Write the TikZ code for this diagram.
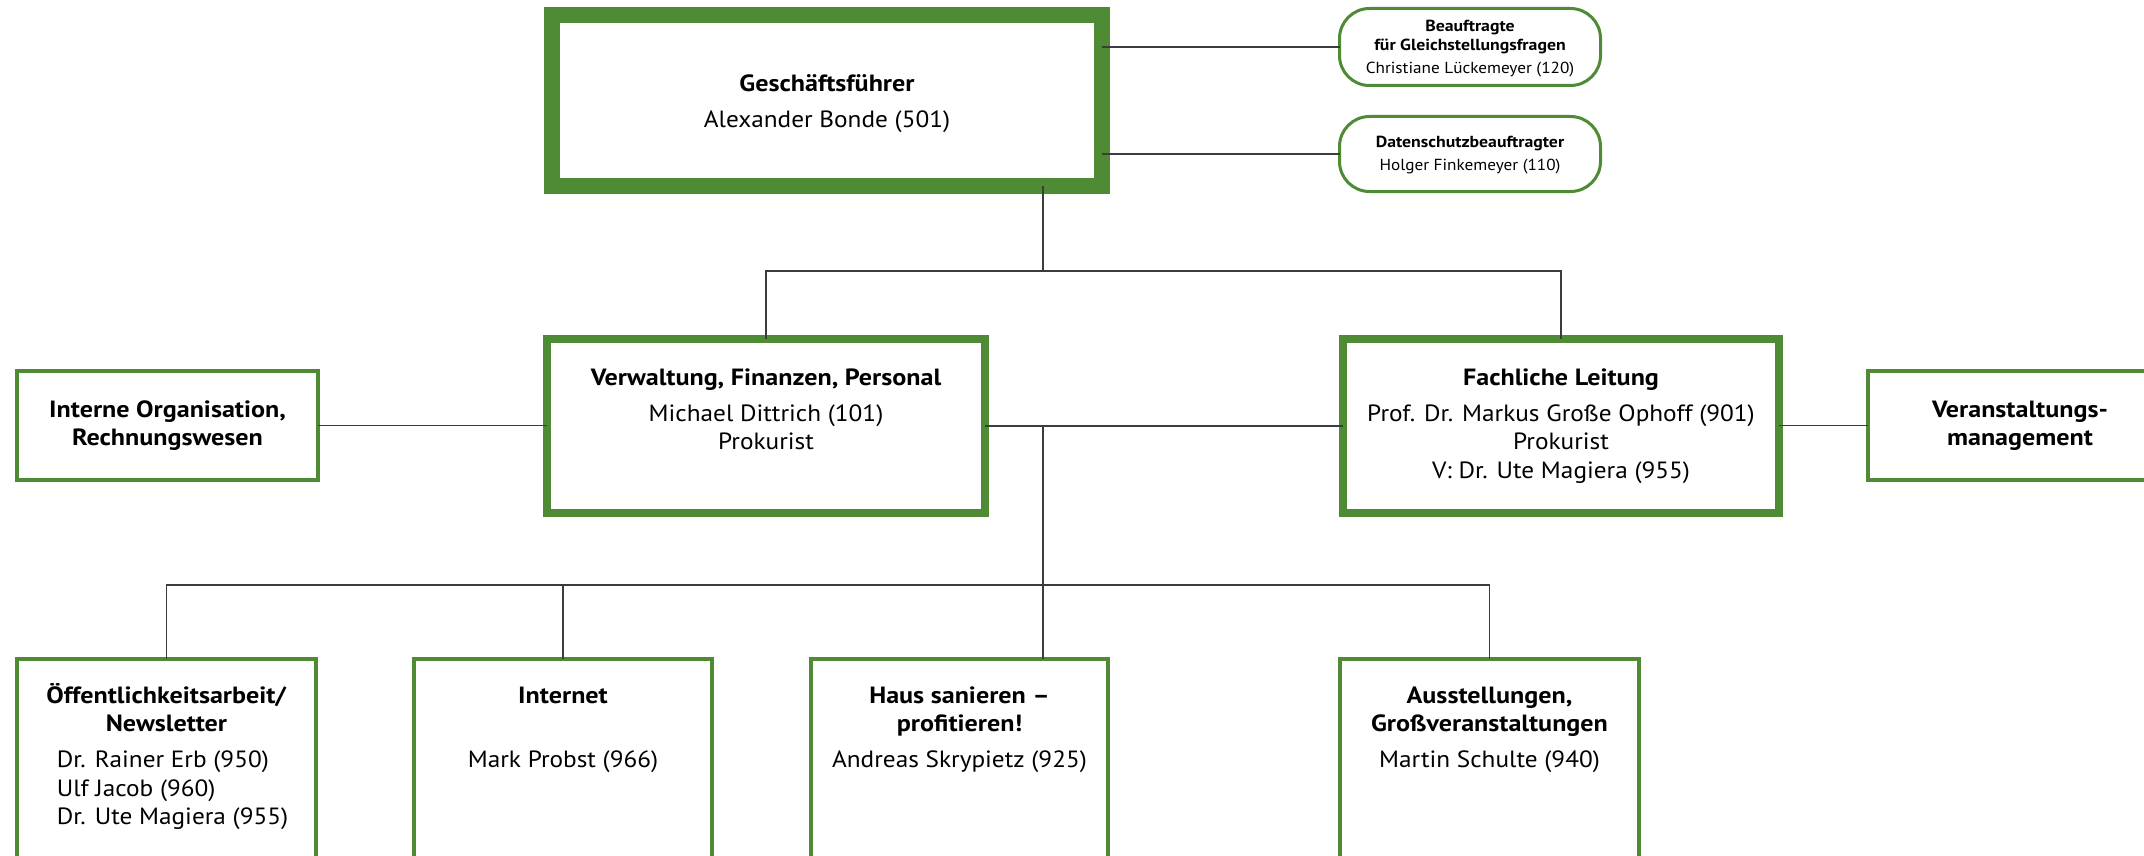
\documentclass[tikz,border=0pt]{standalone}
\usepackage{fontspec}
\setmainfont{PT Sans}[UprightFeatures={FakeStretch=1.075},BoldFeatures={FakeStretch=1.11}]
\definecolor{grn}{RGB}{79,138,52}
\definecolor{lin}{RGB}{60,60,60}
\newcommand{\bigtxt}{\fontsize{23.5}{28.5}\selectfont}
\newcommand{\smltxt}{\fontsize{16}{19}\selectfont}
\tikzset{
  boxbase/.style={draw=grn, fill=white, inner sep=0pt, outer sep=0pt, rectangle},
  thickbox/.style={boxbase, line width=16pt},
  midbox/.style={boxbase, line width=8pt},
  thinbox/.style={boxbase, line width=4pt},
  roundbox/.style={boxbase, line width=3pt, rounded corners=30pt},
  conn/.style={draw=lin, line width=1.5pt},
}
\begin{document}
\begin{tikzpicture}[x=1pt,y=-1pt]
\useasboundingbox (0,0) rectangle (2144,856);
\clip (0,0) rectangle (2144,856);
% top
\node[thickbox] (gf) at (827,100.5)
  {\parbox[t][171pt][t]{550pt}{\centering\bigtxt\rule{0pt}{77pt}\textbf{Geschäftsführer}\\[7.5pt]Alexander Bonde (501)}};
\node[roundbox] (bea) at (1470,47)
  {\parbox[t][77pt][t]{261pt}{\centering\smltxt\rule{0pt}{23.5pt}\textbf{Beauftragte}\\\textbf{für Gleichstellungsfragen}\\[4pt]Christiane Lückemeyer (120)}};
\node[roundbox] (dat) at (1470,154)
  {\parbox[t][75pt][t]{261pt}{\centering\smltxt\rule{0pt}{31.5pt}\textbf{Datenschutzbeauftragter}\\[4pt]Holger Finkemeyer (110)}};
% middle
\node[midbox] (verw) at (766,426)
  {\parbox[t][174pt][t]{438pt}{\centering\bigtxt\rule{0pt}{46pt}\textbf{Verwaltung, Finanzen, Personal}\\[7.5pt]Michael Dittrich (101)\\Prokurist}};
\node[midbox] (fach) at (1561,426)
  {\parbox[t][174pt][t]{436pt}{\centering\bigtxt\rule{0pt}{46pt}\textbf{Fachliche Leitung}\\[7.5pt]Prof. Dr. Markus Große Ophoff (901)\\Prokurist\\V: Dr. Ute Magiera (955)}};
\node[thinbox] (intern) at (167.5,425.5)
  {\parbox[t][109pt][t]{301pt}{\centering\bigtxt\rule{0pt}{46pt}\textbf{Interne Organisation,}\\\textbf{Rechnungswesen}}};
\node[thinbox] (veran) at (2020,425.5)
  {\parbox[t][109pt][t]{304pt}{\centering\bigtxt\rule{0pt}{46pt}\textbf{Veranstaltungs-}\\\textbf{management}}};
% bottom
\node[thinbox] (oeff) at (166.5,778.5)
  {\parbox[t][239pt][t]{299pt}{\centering\bigtxt\rule{0pt}{44pt}\textbf{Öffentlichkeitsarbeit/}\\\textbf{Newsletter}\\[7.5pt]\hspace*{12pt}\begin{tabular}[t]{@{}l@{}}Dr. Rainer Erb (950)\\Ulf Jacob (960)\\Dr. Ute Magiera (955)\end{tabular}}};
\node[thinbox] (inet) at (563,778.5)
  {\parbox[t][239pt][t]{298pt}{\centering\bigtxt\rule{0pt}{44pt}\textbf{Internet}\\\strut\\[7.5pt]Mark Probst (966)}};
\node[thinbox] (haus) at (959.5,778.5)
  {\parbox[t][239pt][t]{297pt}{\centering\bigtxt\rule{0pt}{44pt}\textbf{Haus sanieren –}\\\textbf{profitieren!}\\[7.5pt]Andreas Skrypietz (925)}};
\node[thinbox] (ausst) at (1489.5,778.5)
  {\parbox[t][239pt][t]{299pt}{\centering\bigtxt\rule{0pt}{44pt}\textbf{Ausstellungen,}\\\textbf{Großveranstaltungen}\\[7.5pt]Martin Schulte (940)}};
% junctions
\coordinate (j1) at (1043,271);
\coordinate (j2) at (1043,585);
% connectors
\draw[conn] (bea.west) -- (bea.west -| gf.east);
\draw[conn] (dat.west) -- (dat.west -| gf.east);
\draw[conn] (j1 |- gf.south) -- (j1);
\draw[conn] (verw.north) |- (j1) -| (fach.north);
\draw[conn] (intern.east) -- (intern.east -| verw.west);
\draw[conn] (veran.west) -- (veran.west -| fach.east);
\draw[conn] (verw.east) -- (verw.east -| fach.west);
\draw[conn] (j2 |- verw.east) -- (j2);
\draw[conn] (oeff.north) |- (j2) -| (ausst.north);
\draw[conn] (inet.north) -- (inet.north |- j2);
\draw[conn] (j2) -- (j2 |- haus.north);
\end{tikzpicture}
\end{document}
